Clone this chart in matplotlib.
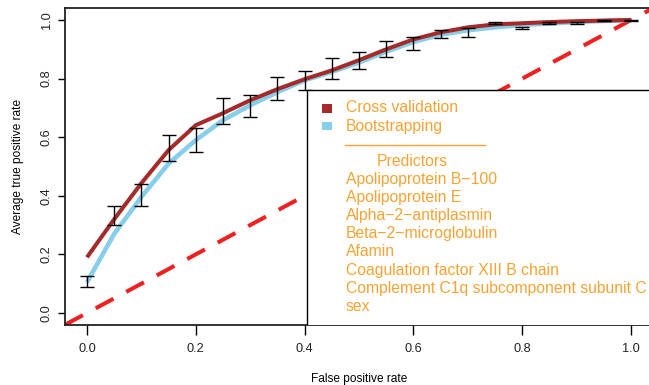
import matplotlib
matplotlib.use("Agg")
import matplotlib.pyplot as plt
from matplotlib.patches import Rectangle

plt.rcParams['font.family'] = ['Liberation Sans', 'DejaVu Sans']

fpr = [0.0, 0.05, 0.1, 0.15, 0.2, 0.25, 0.3, 0.35, 0.4, 0.45, 0.5,
       0.55, 0.6, 0.65, 0.7, 0.75, 0.8, 0.85, 0.9, 0.95, 1.0]
cv_tpr = [0.19, 0.32, 0.443, 0.556, 0.641, 0.682, 0.726, 0.764, 0.798, 0.828, 0.863,
          0.90, 0.934, 0.958, 0.975, 0.985, 0.989, 0.993, 0.996, 0.998, 1.0]
bs_tpr = [0.105, 0.27, 0.396, 0.51, 0.59, 0.658, 0.709, 0.754, 0.794, 0.823, 0.855,
          0.892, 0.925, 0.95, 0.965, 0.975, 0.983, 0.988, 0.993, 0.997, 1.0]
err_lo = [0.089, 0.300, 0.365, 0.518, 0.549, 0.644, 0.668, 0.726, 0.760, 0.798, 0.832,
          0.873, 0.897, 0.938, 0.941, 0.985, 0.970, 0.985, 0.988, 0.995, 0.998]
err_hi = [0.126, 0.365, 0.440, 0.607, 0.631, 0.733, 0.743, 0.805, 0.825, 0.869, 0.890,
          0.927, 0.941, 0.965, 0.972, 0.992, 0.975, 0.992, 0.993, 0.999, 1.000]

legend_series = ["Cross validation", "Bootstrapping"]
predictors = ["Apolipoprotein B\u2212100", "Apolipoprotein E", "Alpha\u22122\u2212antiplasmin",
              "Beta\u22122\u2212microglobulin", "Afamin", "Coagulation factor XIII B chain",
              "Complement C1q subcomponent subunit C", "sex"]
ticks = [0.0, 0.2, 0.4, 0.6, 0.8, 1.0]

brown = "#A52A2A"
sky = "#87CEEB"
orange = "#F4A334"

fig = plt.figure(figsize=(6.49, 3.85), dpi=100)
ax = fig.add_axes([65.2 / 649, 1 - 324.7 / 385, 587.6 / 649, 316.4 / 385])
ax.set_xlim(-0.04, 1.04)
ax.set_ylim(-0.04, 1.04)

ax.axline((0, 0), slope=1, color="#EE2020", lw=2.9, dashes=(5, 3.6), zorder=1)
ax.plot(fpr, bs_tpr, color=sky, lw=3.3, zorder=2, solid_capstyle='butt')
ax.plot(fpr, cv_tpr, color=brown, lw=2.9, zorder=3, solid_capstyle='butt')
mid = [(l + h) / 2 for l, h in zip(err_lo, err_hi)]
yerr = [[m - l for m, l in zip(mid, err_lo)], [h - m for h, m in zip(err_hi, mid)]]
ax.errorbar(fpr, mid, yerr=yerr, fmt='none', ecolor='black', elinewidth=1.0,
            capsize=5.2, capthick=1.0, zorder=4)

# legend box
ax.add_patch(Rectangle((0.405, -0.1), 1.0, 0.861, facecolor='white', edgecolor='black',
                       lw=1.0, zorder=5))

fs = 11.3

def ftext(x, y, s, **kw):
    fig.text(x / 649, 1 - y / 385, s, color=orange, fontsize=fs, va='center', zorder=10, **kw)

for i, (lab, col) in enumerate(zip(legend_series, [brown, sky])):
    y = 108 + i * 18
    fig.patches.append(Rectangle((322 / 649, 1 - (y + 4.5) / 385), 10 / 649, 8.5 / 385,
                                 transform=fig.transFigure, facecolor=col, edgecolor='none',
                                 zorder=10))
    ftext(346, y, lab)
fig.lines.append(plt.Line2D([345 / 649, 485 / 649], [1 - 145 / 385, 1 - 145 / 385],
                            transform=fig.transFigure, color=orange, lw=1.0))
ftext(412, 162, "Predictors", ha='center')
for i, p in enumerate(predictors):
    ftext(346, 179.5 + i * 18.1, p)

ax.set_xticks(ticks)
ax.set_yticks(ticks)
ax.set_xticklabels([f"{t:.1f}" for t in ticks], fontsize=9.2, color='#222222')
ax.set_yticklabels([f"{t:.1f}" for t in ticks], fontsize=9.2, color='#222222',
                   rotation=90, va='center')
ax.tick_params(axis='x', length=7, width=1.0, pad=6)
ax.tick_params(axis='y', length=5, width=1.0, pad=4)
for s in ax.spines.values():
    s.set_linewidth(1.3)
    s.set_color('#222222')
ax.set_xlabel("False positive rate", fontsize=8.6, labelpad=13)
ax.set_ylabel("Average true positive rate", fontsize=8.6, labelpad=12)

fig.savefig("out.png", dpi=100)
